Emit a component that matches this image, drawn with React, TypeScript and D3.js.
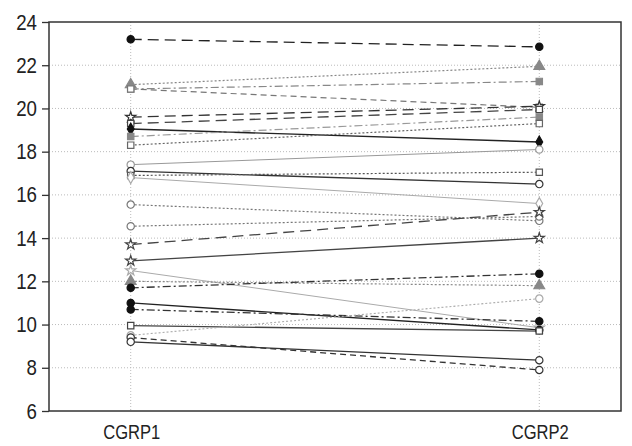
import React, { useEffect, useRef } from "react";
import * as d3 from "d3";

// paired measurements, one entry per subject
const categories = ["CGRP1", "CGRP2"];
const cgrp1 = [23.2, 21.1, 20.9, 20.9, 19.6, 19.3, 19.05, 18.7, 18.3, 17.4, 17.1, 16.9, 16.8, 15.55, 14.55, 13.7, 12.95, 12.5, 12.0, 11.7, 11.0, 10.7, 9.95, 9.5, 9.4, 9.2];
const cgrp2 = [22.85, 21.95, 21.25, 20.05, 20.1, 19.95, 18.45, 19.6, 19.3, 18.1, 16.5, 17.05, 15.6, 14.8, 15.0, 15.2, 14.0, 9.85, 11.8, 12.35, 9.75, 10.15, 9.7, 11.2, 7.9, 8.35];
const yTicks = [6, 8, 10, 12, 14, 16, 18, 20, 22, 24];

// line / marker look for each subject (same order as above)
type Look = { dash: string; color: string; width: number; symbol: string; fill: string };
const LD = "11,6";
const DOT = "2,2";
const DD = "8,3,2,3";
const looks: Look[] = [
  { dash: LD, color: "#222", width: 1.3, symbol: "circle", fill: "#111" },
  { dash: DOT, color: "#888", width: 1.2, symbol: "triangle", fill: "#888" },
  { dash: DD, color: "#888", width: 1.2, symbol: "square", fill: "#888" },
  { dash: "6,4", color: "#777", width: 1.2, symbol: "square", fill: "#fff" },
  { dash: LD, color: "#333", width: 1.3, symbol: "star", fill: "#fff" },
  { dash: LD, color: "#444", width: 1.3, symbol: "square", fill: "#fff" },
  { dash: "", color: "#222", width: 1.4, symbol: "diamond", fill: "#111" },
  { dash: DD, color: "#999", width: 1.2, symbol: "square", fill: "#888" },
  { dash: DOT, color: "#666", width: 1.2, symbol: "square", fill: "#fff" },
  { dash: "", color: "#999", width: 1, symbol: "circle", fill: "#fff" },
  { dash: "", color: "#333", width: 1.4, symbol: "circle", fill: "#fff" },
  { dash: DOT, color: "#555", width: 1.2, symbol: "square", fill: "#fff" },
  { dash: "", color: "#aaa", width: 1, symbol: "diamond", fill: "#fff" },
  { dash: DOT, color: "#777", width: 1.2, symbol: "circle", fill: "#fff" },
  { dash: DOT, color: "#777", width: 1.2, symbol: "circle", fill: "#fff" },
  { dash: LD, color: "#444", width: 1.3, symbol: "star", fill: "#fff" },
  { dash: "", color: "#444", width: 1.3, symbol: "star", fill: "#fff" },
  { dash: "", color: "#aaa", width: 1, symbol: "star", fill: "#fff" },
  { dash: DOT, color: "#888", width: 1.2, symbol: "triangle", fill: "#888" },
  { dash: DD, color: "#333", width: 1.3, symbol: "circle", fill: "#111" },
  { dash: "", color: "#222", width: 1.3, symbol: "circle", fill: "#111" },
  { dash: DD, color: "#333", width: 1.3, symbol: "circle", fill: "#111" },
  { dash: "", color: "#444", width: 1.3, symbol: "square", fill: "#fff" },
  { dash: DOT, color: "#aaa", width: 1.1, symbol: "circle", fill: "#fff" },
  { dash: "6,4", color: "#333", width: 1.3, symbol: "circle", fill: "#fff" },
  { dash: "", color: "#333", width: 1.3, symbol: "circle", fill: "#fff" },
];

const symbolTypes: Record<string, d3.SymbolType> = {
  circle: d3.symbolCircle,
  triangle: d3.symbolTriangle,
  square: d3.symbolSquare,
  diamond: d3.symbolDiamond,
  star: d3.symbolStar,
};
const symbolSizes: Record<string, number> = {
  circle: 42, triangle: 50, square: 40, diamond: 40, star: 32,
};

function App() {
  const svgRef = useRef<SVGSVGElement>(null);

  useEffect(() => {
    const width = 632;
    const height = 446;
    const left = 49, right = 621, top = 22, bottom = 411;
    const font = "'Liberation Sans', Arial, sans-serif";
    const charW = 10.4; // condensed look

    const svg = d3.select(svgRef.current);
    svg.selectAll("*").remove();
    svg.attr("width", width).attr("height", height);

    const x = d3.scalePoint<string>().domain(categories).range([left, right]).padding(0.2);
    const y = d3.scaleLinear().domain([6, 24]).range([bottom, top]);

    // grid
    svg.append("g")
      .selectAll("line")
      .data(yTicks.filter((t) => t > 6 && t < 24))
      .join("line")
      .attr("x1", left).attr("x2", right)
      .attr("y1", (d) => y(d)).attr("y2", (d) => y(d))
      .attr("stroke", "#bbb").attr("stroke-width", 1).attr("stroke-dasharray", "1,2");
    svg.append("g")
      .selectAll("line")
      .data(categories)
      .join("line")
      .attr("x1", (d) => x(d)!).attr("x2", (d) => x(d)!)
      .attr("y1", top).attr("y2", bottom)
      .attr("stroke", "#bbb").attr("stroke-width", 1).attr("stroke-dasharray", "1,2");

    // frame
    svg.append("rect")
      .attr("x", left).attr("y", top)
      .attr("width", right - left).attr("height", bottom - top)
      .attr("fill", "none").attr("stroke", "#333").attr("stroke-width", 1.5);

    // y axis
    const yAxis = d3.axisLeft(y).tickValues(yTicks).tickSize(7).tickPadding(5);
    const ya = svg.append("g").attr("transform", `translate(${left},0)`).call(yAxis);
    ya.select(".domain").remove();
    ya.selectAll("line").attr("stroke", "#333").attr("stroke-width", 1.3);
    ya.selectAll<SVGTextElement, number>("text")
      .attr("fill", "#222")
      .attr("textLength", (d) => String(d).length * charW)
      .attr("lengthAdjust", "spacingAndGlyphs")
      .style("font-family", font)
      .style("font-size", "22px");

    // x labels
    svg.append("g")
      .selectAll("text")
      .data(categories)
      .join("text")
      .attr("x", (d) => x(d)! + 1)
      .attr("y", 439)
      .attr("text-anchor", "middle")
      .attr("textLength", (d) => d.length * 11.4)
      .attr("lengthAdjust", "spacingAndGlyphs")
      .attr("fill", "#222")
      .style("font-family", font)
      .style("font-size", "21px")
      .text((d) => d);

    const rows = cgrp1.map((v, i) => ({ a: v, b: cgrp2[i], look: looks[i] }));

    // lines
    svg.append("g")
      .selectAll("line")
      .data(rows)
      .join("line")
      .attr("x1", x(categories[0])!).attr("x2", x(categories[1])!)
      .attr("y1", (d) => y(d.a)).attr("y2", (d) => y(d.b))
      .attr("stroke", (d) => d.look.color)
      .attr("stroke-width", (d) => d.look.width)
      .attr("stroke-dasharray", (d) => d.look.dash || null);

    // markers
    const pts = rows.flatMap((d) => [
      { cx: x(categories[0])!, cy: y(d.a), look: d.look },
      { cx: x(categories[1])!, cy: y(d.b), look: d.look },
    ]);
    svg.append("g")
      .selectAll("path")
      .data(pts)
      .join("path")
      .attr("transform", (d) => `translate(${d.cx},${d.cy})`)
      .attr("d", (d) => d3.symbol().type(symbolTypes[d.look.symbol]).size(symbolSizes[d.look.symbol])()!)
      .attr("fill", (d) => d.look.fill)
      .attr("stroke", (d) => (d.look.fill === "#fff" ? d.look.color : d.look.fill))
      .attr("stroke-width", 1.2);
  }, []);

  return (
    <svg
      ref={svgRef}
      style={{ position: "absolute", left: 0, top: 0, background: "#fff" }}
    />
  );
}

export default App;
